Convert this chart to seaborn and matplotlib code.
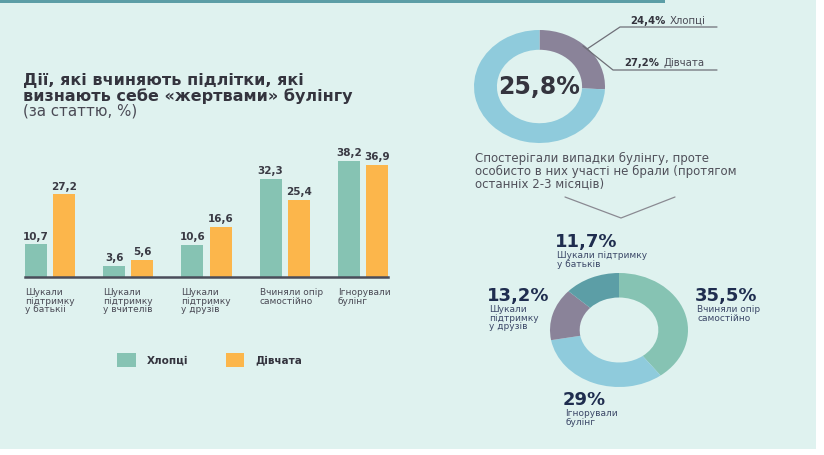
import matplotlib
matplotlib.use("Agg")
import matplotlib.pyplot as plt
import seaborn as sns
import pandas as pd
from matplotlib.patches import Rectangle, Patch
from matplotlib.lines import Line2D
from matplotlib.transforms import offset_copy

# ---------------- data ----------------
categories = ["Шукали\nпідтримку\nу батькіі", "Шукали\nпідтримку\nу вчителів",
              "Шукали\nпідтримку\nу друзів", "Вчиняли опір\nсамостійно", "Ігнорували\nбулінг"]
boys = [10.7, 3.6, 10.6, 32.3, 38.2]
girls = [27.2, 5.6, 16.6, 25.4, 36.9]
series_names = ["Хлопці", "Дівчата"]

observed_total = 25.8
observed_boys = 24.4
observed_girls = 27.2

ring_labels = ["Вчиняли опір\nсамостійно", "Ігнорували\nбулінг",
               "Шукали\nпідтримку\nу друзів", "Шукали підтримку\nу батьків"]
ring_values = [35.5, 29, 13.2, 11.7]

# ---------------- style ----------------
sns.set_theme(style="white")
plt.rcParams["font.family"] = ["DejaVu Sans"]

W, H = 824, 455
GREEN = "#86c3b3"
ORANGE = "#fcb64b"
BG = "#dff2ef"
GREY_P = "#8a8399"
LBLUE = "#8fcbdc"
DTEAL = "#5c9ea6"
DARK = "#34343e"
NAVY = "#1f2d4f"
NAVY2 = "#3c4868"

fig = plt.figure(figsize=(W / 100, H / 100), dpi=100)
fig.patch.set_facecolor("white")


def fx(x):
    return x / W


def fy(y):
    return 1 - y / H


def box(x0, y0, x1, y1):
    return [fx(x0), fy(y1), (x1 - x0) / W, (y1 - y0) / H]


fig.add_artist(Rectangle((0, fy(449)), fx(816), 449 / H, transform=fig.transFigure,
                         facecolor=BG, edgecolor="none", zorder=-10))
fig.add_artist(Rectangle((0, fy(3)), fx(665), 3 / H, transform=fig.transFigure,
                         facecolor=DTEAL, edgecolor="none", zorder=-9))

# ---------------- title ----------------
fig.text(fx(23), fy(80), "Дії, які вчиняють підлітки, які", fontsize=11.5,
         fontweight="bold", color=DARK, va="center", ha="left")
fig.text(fx(23), fy(96), "визнають себе «жертвами» булінгу", fontsize=11.5,
         fontweight="bold", color=DARK, va="center", ha="left")
fig.text(fx(23), fy(111), "(за статтю, %)", fontsize=10.8, color="#4a4a55",
         va="center", ha="left")

# ---------------- bar chart ----------------
df = pd.DataFrame({
    "cat": list(range(len(categories))) * 2,
    "val": boys + girls,
    "sex": [series_names[0]] * len(boys) + [series_names[1]] * len(girls),
})
ax = fig.add_axes(box(25, 150, 388, 277))
ax.set_facecolor("none")
sns.barplot(data=df, x="cat", y="val", hue="sex", hue_order=series_names,
            palette=[GREEN, ORANGE], width=0.72, gap=0.22, legend=False,
            saturation=1, linewidth=0, edgecolor="none", ax=ax)
ax.set_xlim(-0.32, len(categories) - 1 + 0.32)
ax.set_ylim(0, 127 / 3.04)
for cont, vals in zip(ax.containers, [boys, girls]):
    ax.bar_label(cont, labels=[f"{v:.1f}".replace(".", ",") for v in vals],
                 padding=2, fontsize=7.5, fontweight="bold", color="#3a3a44")
for i, lab in enumerate(categories):
    ax.annotate(lab, xy=(i - 0.32, 0), xycoords=("data", "axes fraction"),
                xytext=(0, -8), textcoords="offset points", ha="left", va="top",
                fontsize=6.5, color="#4a4a55", linespacing=0.95)
ax.set_xticks([])
ax.set_yticks([])
ax.set_xlabel("")
ax.set_ylabel("")
for s in ["top", "left", "right"]:
    ax.spines[s].set_visible(False)
ax.spines["bottom"].set_color("#4a4d5a")
ax.spines["bottom"].set_linewidth(1.8)

handles = [Patch(facecolor=GREEN, edgecolor="none"), Patch(facecolor=ORANGE, edgecolor="none")]
fig.legend(handles, series_names, loc="center left", bbox_to_anchor=(fx(108), fy(360)),
           ncol=2, frameon=False, handlelength=1.75, handleheight=1.75,
           handletextpad=1.1, columnspacing=3.6,
           prop={"size": 7.5, "weight": "bold"}, labelcolor=DARK)

# ---------------- top donut ----------------
ax1 = fig.add_axes(box(474, 30, 605, 143))
ax1.pie([observed_total, 100 - observed_total], colors=[GREY_P, LBLUE], startangle=90,
        counterclock=False, wedgeprops=dict(width=0.35, edgecolor="none"))
ax1.set_aspect("auto")
ax1.set_xlim(-1, 1)
ax1.set_ylim(-1, 1)
ax1.text(0, 0, f"{observed_total:.1f}%".replace(".", ","), ha="center", va="center",
         fontsize=17, fontweight="bold", color=DARK)

# annotations
fig.add_artist(Line2D([fx(587), fx(620), fx(717)], [fy(49), fy(27), fy(27)],
                      transform=fig.transFigure, color="#6f6f78", lw=0.9))
fig.add_artist(Line2D([fx(583), fx(613), fx(717)], [fy(46), fy(70), fy(70)],
                      transform=fig.transFigure, color="#6f6f78", lw=0.9))

renderer = fig.canvas.get_renderer()
for (x, y), val, name in [((630, 21), observed_boys, series_names[0]),
                          ((624, 63), observed_girls, series_names[1])]:
    tb = fig.text(fx(x), fy(y), f"{val:.1f}%".replace(".", ","), fontsize=7.3,
                  fontweight="bold", color=DARK, va="center", ha="left")
    bb = tb.get_window_extent(renderer)
    fig.text((bb.x1 + 4) / W, fy(y), name, fontsize=7.3, color="#4a4a55",
             va="center", ha="left")

fig.text(fx(475), fy(171), "Спостерігали випадки булінгу, проте\nособисто в них участі не брали (протягом\nостанніх 2-3 місяців)",
         fontsize=8.5, color="#50505a", va="center", ha="left", linespacing=0.95)

fig.add_artist(Line2D([fx(565), fx(621), fx(675)], [fy(197), fy(218), fy(197)],
                      transform=fig.transFigure, color="#8a8a92", lw=0.9))

# ---------------- bottom donut ----------------
ax2 = fig.add_axes(box(550, 273, 688, 387))
ax2.pie(ring_values, colors=[GREEN, LBLUE, GREY_P, DTEAL], startangle=90,
        counterclock=False, wedgeprops=dict(width=0.43, edgecolor="none"))
ax2.set_aspect("auto")
ax2.set_xlim(-1, 1)
ax2.set_ylim(-1, 1)


def pct(v):
    s = f"{v:.1f}".replace(".", ",")
    return (s[:-2] if s.endswith(",0") else s) + "%"


ring_pos = [(695, 296), (563, 400), (487, 296), (555, 242)]
for (x, y), lab, v in zip(ring_pos, ring_labels, ring_values):
    fig.text(fx(x), fy(y), pct(v), fontsize=13, fontweight="bold", color=NAVY,
             ha="left", va="center")
    fig.text(fx(x + 2), fy(y + 9), lab, fontsize=6.5, color=NAVY2, ha="left", va="top",
             linespacing=0.95)

fig.savefig("out.png", dpi=100, facecolor=fig.get_facecolor())
